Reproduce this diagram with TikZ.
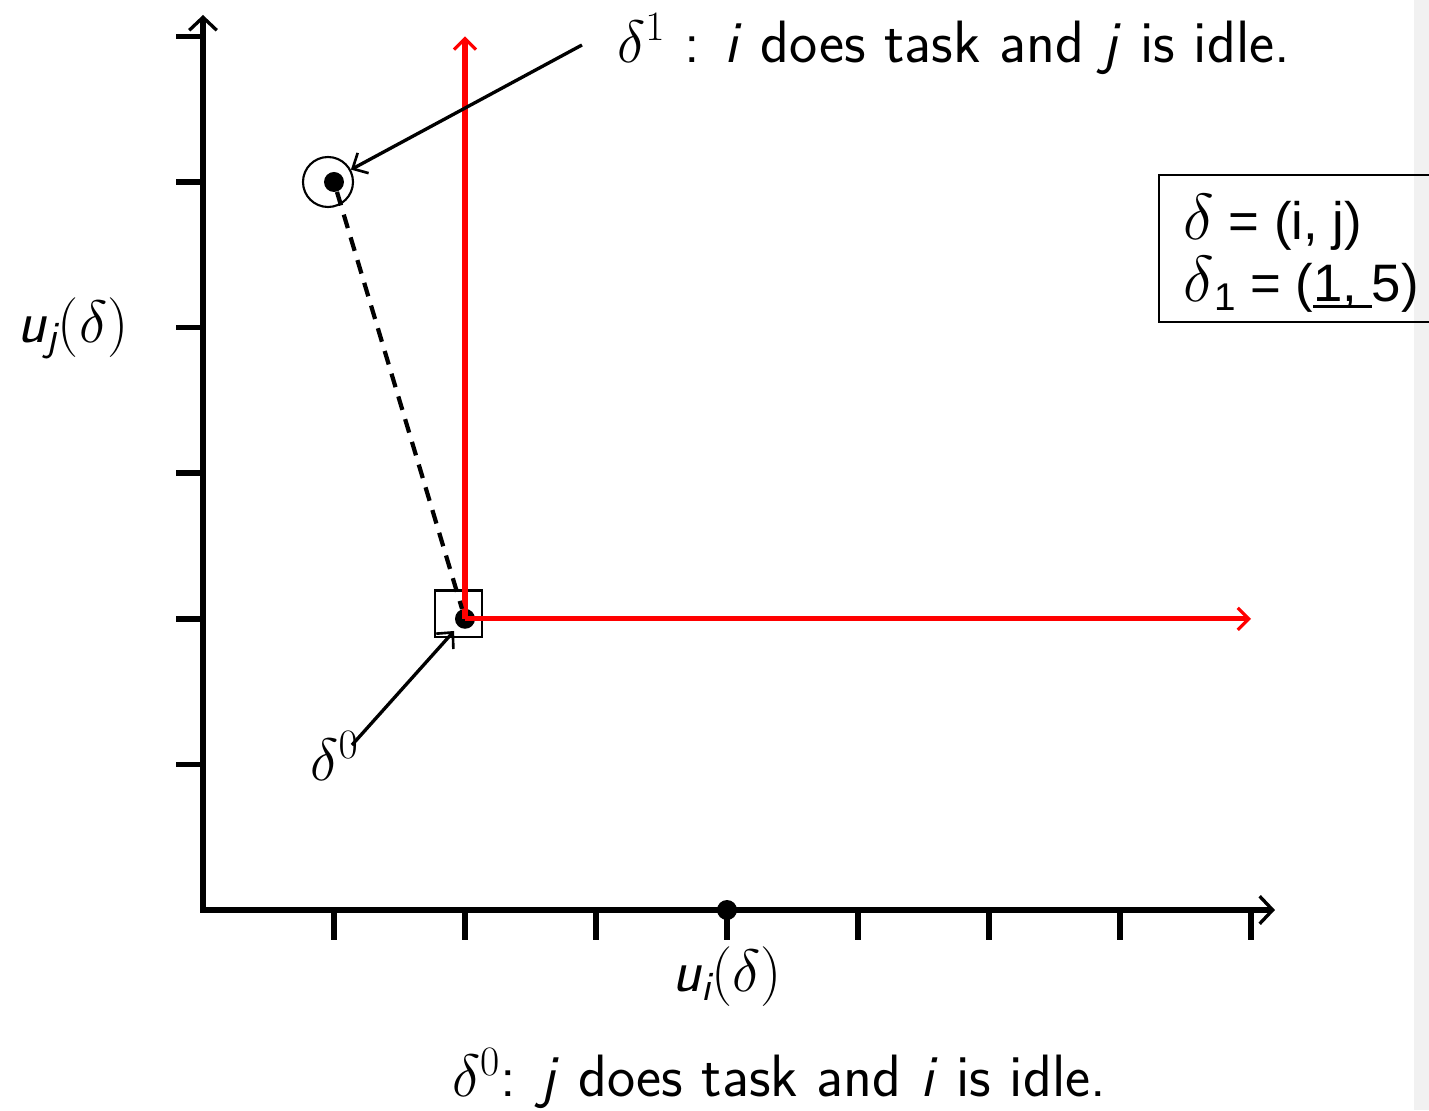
\RequirePackage{fix-cm}
\documentclass[tikz,border=0pt]{standalone}
\usepackage{amsmath}
\usepackage{fontspec}
\newfontfamily\arialfont{Liberation Sans}
\usepackage{tikz}
\usetikzlibrary{arrows.meta,positioning,calc}
\usepackage{xcolor}
\definecolor{devred}{RGB}{255,0,0}
\definecolor{pagegrey}{RGB}{241,241,241}
\newlength{\ulwd}
\newcommand{\thickul}[1]{\settowidth{\ulwd}{#1}\rlap{\rule[-0.12em]{\ulwd}{1.7pt}}#1}
\newcommand{\bigdelta}{{\fontsize{37}{37}\selectfont$\delta$}}
\tikzset{
  axisline/.style={line width=3.2pt,line join=miter,
    {Straight Barb[length=2.6mm,width=5.5mm,line width=1.9pt]}-{Straight Barb[length=2.6mm,width=5.5mm,line width=1.9pt]}},
  tickmark/.style={line width=3.2pt},
  dev/.style={draw=devred,line width=3pt,
    -{Straight Barb[length=2.2mm,width=4.4mm,line width=1.8pt]}},
  pt/.style={circle,fill=black,inner sep=0pt,minimum size=0.4cm},
  ring/.style={circle,draw=black,line width=1.2pt,minimum size=1cm,inner sep=0pt},
  sqbox/.style={rectangle,draw=black,line width=1.2pt,minimum size=0.93cm,inner sep=0pt},
  callout/.style={line width=1.9pt,-{Straight Barb[length=2.4mm,width=4.6mm,line width=1.5pt]}},
  link/.style={line width=2.4pt,dash pattern=on 8pt off 5.5pt},
  lbl/.style={inner sep=0pt,font=\sffamily\fontsize{34}{40}\selectfont},
  legtext/.style={inner sep=0pt,font=\arialfont\fontsize{30}{35}\selectfont},
}

\begin{document}
\begin{tikzpicture}[x=2.62cm,y=2.912cm]
  \useasboundingbox (-1.5496,-1.3736) rectangle (9.3588,6.25);
  \fill[pagegrey] (9.244,-1.3736) rectangle (9.3588,6.25);

  % axes and ticks
  \draw[axisline] (0,6.147) -- (0,0) -- (8.183,0);
  \foreach \k in {1,...,8}{\draw[tickmark] (\k,0) -- (\k,-0.206);}
  \foreach \k in {1,...,6}{\draw[tickmark] (0,\k) -- (-0.206,\k);}

  % outcomes
  \node[pt] (p1) at (1,5) {};
  \node[pt] (p0) at (2,2) {};
  \node[pt] (p2) at (4,0) {};
  \node[ring] (c1) at ($(p1)+(-0.12cm,0)$) {};
  \node[sqbox] (box0) at ($(p0)+(-0.13cm,0.1cm)$) {};
  \coordinate (up0) at (2,6);
  \coordinate (right0) at (8,2);
  \draw[dev] (p0.center) -- (up0);
  \draw[dev] (p0.center) -- (right0);
  \draw[link] (p1) -- (p0);

  % labels
  \node[lbl,anchor=base] (uj) at (-0.992,3.901) {$\textit{u}_{\textit{j}}(\delta)$};
  \node[lbl,anchor=base] (ui) at (4,-0.563) {$\textit{u}_{\textit{i}}(\delta)$};
  \node[lbl,anchor=base west] (note1) at (3.160,5.824)
    {$\delta^1$ : \textit{i} does task and \textit{j} is idle.};
  \node[lbl,anchor=base] (note0) at (4.397,-1.284)
    {$\delta^0$: \textit{j} does task and \textit{i} is idle.};
  \node[lbl,anchor=base west] (d0) at (0.817,0.89) {$\delta^0$};
  \coordinate (t1) at (2.893,5.941);
  \coordinate (t0) at (1.137,1.133);
  \draw[callout] (t1) -- (c1);
  \draw[callout,shorten >=1.2mm] (t0) -- (p0);

  % legend
  \draw[line width=1.2pt] (7.298,4.038) rectangle (9.6,5.048);
  \node[legtext,anchor=base west] (leg1) at (7.481,4.602) {\bigdelta\ = (i, j)};
  \node[legtext,anchor=base west] (leg2) at (7.481,4.176)
    {\bigdelta\raisebox{-0.3ex}{\fontsize{22}{22}\selectfont 1} = (\thickul{1,\ }5)};
\end{tikzpicture}
\end{document}
